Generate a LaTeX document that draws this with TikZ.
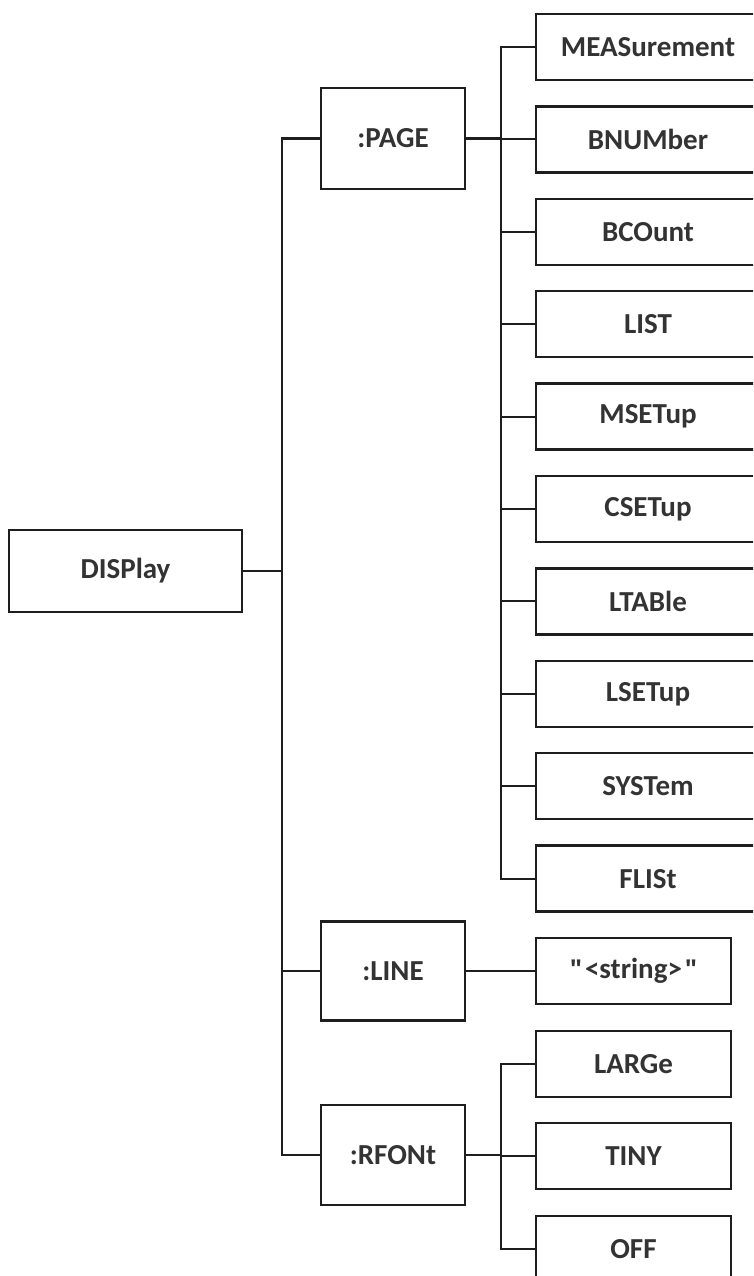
\documentclass[tikz,border=0pt]{standalone}
\usepackage{fontspec}
\setmainfont{Carlito}
\newfontfamily\qfont{Open Sans}
\begin{document}
\begin{tikzpicture}[x=1pt,y=-1pt,
  box/.style={draw=linec, line width=2.5pt, fill=white, inner sep=0pt,
    font=\fontsize{29}{32}\selectfont\bfseries, text=textc},
  conn/.style={draw=linec, line width=2.1pt}]
\definecolor{linec}{HTML}{1E1E1E}
\definecolor{textc}{HTML}{333333}
\useasboundingbox (0,0) rectangle (753,1276);
\clip (0,0) rectangle (753,1276);
\fill[white] (0,0) rectangle (753,1276);
% coordinates of buses
\coordinate (b1) at (282,571);
\coordinate (b2) at (501,0);
% nodes
\node[box, minimum width=233, minimum height=82] (disp) at (125.5,571) {DISPlay};
\node[box, minimum width=144, minimum height=101] (page) at (393,138.5) {:PAGE};
\node[box, minimum width=144, minimum height=99] (line) at (393,971) {:LINE};
\node[box, minimum width=144, minimum height=100] (rfont) at (393,1155) {:RFONt};
\foreach \name/\txt [count=\i from 0] in {meas/MEASurement, bnum/BNUMber, bcou/BCOunt, list/LIST, mset/MSETup, cset/CSETup, ltab/LTABle, lset/LSETup, syst/SYSTem, flis/FLISt}{
  \node[box, minimum width=224, minimum height=66] (\name) at (648,{47+92.4*\i}) {\txt};
}
\node[box, minimum width=195, minimum height=66] (str) at (633.5,971) {{\qfont\fontsize{26}{30}\selectfont\symbol{34}}\kern3pt<string>\kern3pt{\qfont\fontsize{26}{30}\selectfont\symbol{34}}};
\node[box, minimum width=195, minimum height=66] (larg) at (633.5,1064) {LARGe};
\node[box, minimum width=195, minimum height=66] (tiny) at (633.5,1156) {TINY};
\node[box, minimum width=195, minimum height=66] (off) at (633.5,1249) {OFF};
% level 1
\draw[conn] (disp.east) -- (b1);
\draw[conn] (b1) |- (page.west);
\draw[conn] (b1) |- (line.west);
\draw[conn] (b1) |- (rfont.west);
% level 2 page
\draw[conn] (page.east) -- (page.east -| b2);
\foreach \name in {meas, bnum, bcou, list, mset, cset, ltab, lset, syst, flis}{
  \draw[conn] (page.east -| b2) |- (\name.west);
}
% line
\draw[conn] (line.east) -- (str.west);
% rfont
\draw[conn] (rfont.east) -- (rfont.east -| b2);
\foreach \name in {larg, tiny, off}{
  \draw[conn] (rfont.east -| b2) |- (\name.west);
}
\end{tikzpicture}
\end{document}
